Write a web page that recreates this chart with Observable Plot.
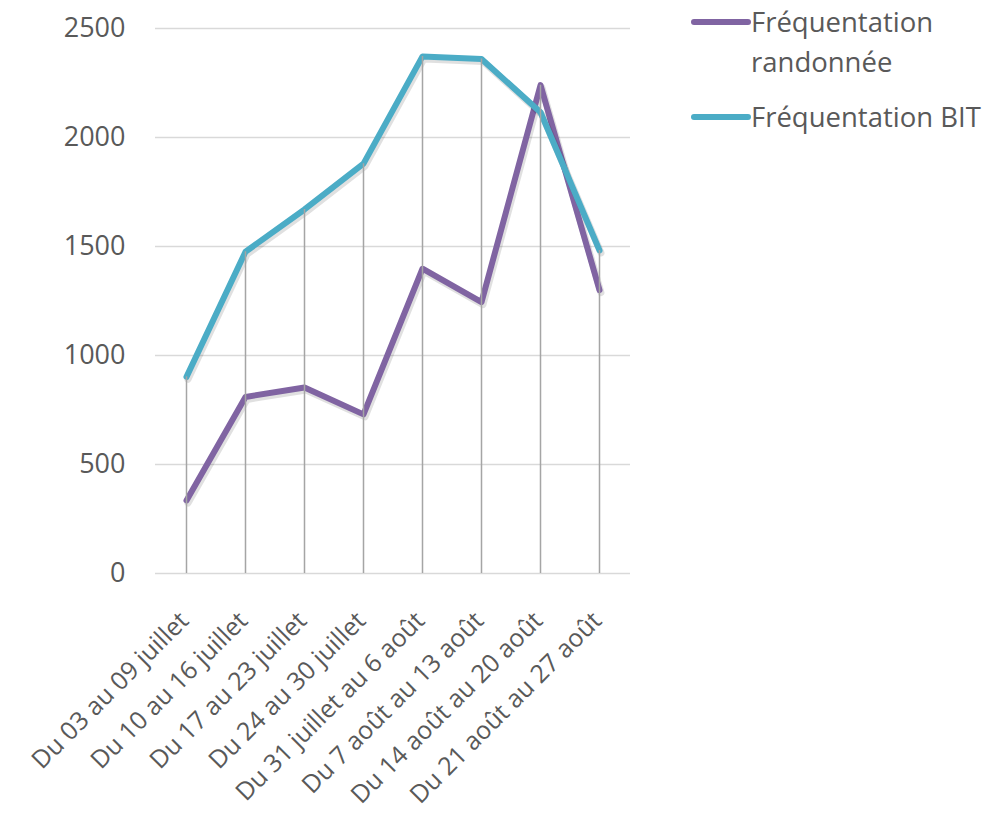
<!DOCTYPE html>
<html>
<head>
<meta charset="utf-8">
<script src="https://cdn.jsdelivr.net/npm/d3@7"></script>
<script src="https://cdn.jsdelivr.net/npm/@observablehq/plot@0.6"></script>
<style>
  html, body { margin: 0; padding: 0; background: #fff; }
  #wrap { position: relative; width: 990px; height: 816px; font-family: "Open Sans", sans-serif; }
  #chart { position: absolute; left: 0; top: 0; }
  .leg { position: absolute; font-size: 27.5px; color: #595959; line-height: 40px; white-space: nowrap; }
</style>
</head>
<body>
<div id="wrap">
  <div id="chart"></div>
  <div id="legend"></div>
</div>
<script>
const categories = [
  "Du 03 au 09 juillet",
  "Du 10 au 16 juillet",
  "Du 17 au 23 juillet",
  "Du 24 au 30 juillet",
  "Du 31 juillet au 6 août",
  "Du 7 août au 13 août",
  "Du 14 août au 20 août",
  "Du 21 août au 27 août"
];
const randonnee = [335, 810, 853, 730, 1398, 1245, 2240, 1300];
const bit = [902, 1476, 1670, 1880, 2372, 2360, 2116, 1482];
const yTicks = [0, 500, 1000, 1500, 2000, 2500];
const seriesNames = ["Fréquentation randonnée", "Fréquentation BIT"];
const seriesColors = ["#8064A2", "#4BACC6"];

const randRows = categories.map((c, i) => ({cat: c, value: randonnee[i]}));
const bitRows = categories.map((c, i) => ({cat: c, value: bit[i]}));
const drops = categories.map((c, i) => ({cat: c, top: Math.max(randonnee[i], bit[i])}));

const lineOpts = {x: "cat", y: "value", strokeWidth: 6, strokeLinecap: "round", strokeLinejoin: "round"};
const shadowOpts = {...lineOpts, stroke: "#000", strokeOpacity: 0.12, strokeWidth: 7, dx: 1.5, dy: 2.5};

const chart = Plot.plot({
  width: 990,
  height: 816,
  marginLeft: 155,
  marginRight: 360,
  marginTop: 28,
  marginBottom: 243,
  style: {fontFamily: "'Open Sans', sans-serif", background: "#fff"},
  x: {type: "point", domain: categories, padding: 0.5, label: null},
  y: {domain: [0, 2500], label: null},
  marks: [
    Plot.ruleY(yTicks, {stroke: "#d9d9d9", strokeWidth: 1.5}),
    Plot.line(randRows, shadowOpts),
    Plot.line(randRows, {...lineOpts, stroke: seriesColors[0]}),
    Plot.line(bitRows, shadowOpts),
    Plot.line(bitRows, {...lineOpts, stroke: seriesColors[1]}),
    Plot.ruleX(drops, {x: "cat", y1: 0, y2: "top", stroke: "#a5a5a5", strokeWidth: 1.5}),
    Plot.axisY({ticks: yTicks, tickSize: 0, tickPadding: 30, fontSize: 27, fill: "#595959", label: null, tickFormat: d => String(d)}),
    Plot.axisX({tickSize: 0, tickRotate: -45, fontSize: 25, fill: "#595959", tickPadding: 43, dx: -2, label: null})
  ]
});
document.getElementById("chart").appendChild(chart);

// legend
const legend = document.getElementById("legend");
const legItems = [
  {lines: ["Fréquentation", "randonnée"], color: seriesColors[0], top: 2},
  {lines: ["Fréquentation BIT"], color: seriesColors[1], top: 97}
];
legItems.forEach(item => {
  const div = document.createElement("div");
  div.className = "leg";
  div.style.left = "751px";
  div.style.top = item.top + "px";
  div.innerHTML = item.lines.join("<br>");
  legend.appendChild(div);
  const sw = document.createElementNS("http://www.w3.org/2000/svg", "svg");
  sw.setAttribute("width", 66);
  sw.setAttribute("height", 14);
  sw.style.position = "absolute";
  sw.style.left = "688px";
  sw.style.top = (item.top + 13) + "px";
  sw.innerHTML = `<line x1="6" y1="7" x2="60" y2="7" stroke="${item.color}" stroke-width="6" stroke-linecap="round"/>`;
  legend.appendChild(sw);
});
</script>
</body>
</html>
